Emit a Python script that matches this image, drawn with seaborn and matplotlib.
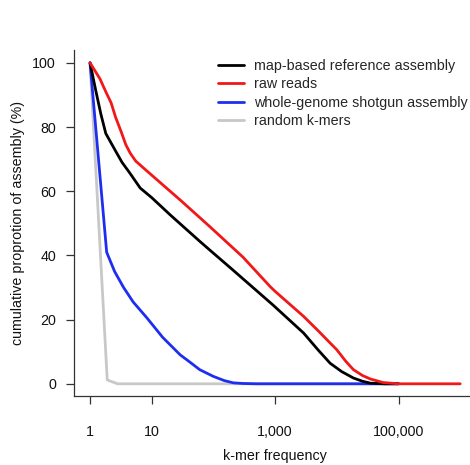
"""
Cumulative proportion of assembly vs k-mer frequency
"""
import numpy as np
import pandas as pd
import matplotlib
matplotlib.use("Agg")
import matplotlib.pyplot as plt
import seaborn as sns

sns.set_style("ticks")
plt.rcParams["font.family"] = ["Liberation Sans", "DejaVu Sans"]
plt.rcParams["font.size"] = 10.3

# ---------------------------------------------------------
# DATA
# ---------------------------------------------------------
map_x = [1, 1.25, 1.5, 1.8, 2.2, 2.6, 3.3, 4.4, 6.5, 10, 20, 60, 87, 200,
         930, 2900, 5000, 7800, 12000, 18600, 26000, 35000, 60000, 100000]
map_y = [100, 91, 84, 78, 75, 72.5, 69, 65.7, 61, 58, 52.6, 44.4, 41.7, 35.7,
         24.5, 15.8, 10.5, 6.4, 3.8, 1.8, 0.8, 0.2, 0, 0]

raw_x = [1, 1.45, 1.8, 2.2, 2.6, 3.2, 3.8, 4.5, 5.5, 7.6, 10, 30, 87, 300,
         830, 1000, 2900, 5000, 10000, 14000, 18600, 26000, 35000, 56000,
         100000, 1000000]
raw_y = [100, 95, 91, 87.5, 83, 78.5, 74.5, 71.8, 69.4, 67, 65, 57, 49, 39.5,
         30.3, 28.8, 21, 16.5, 10.6, 7, 4.4, 2.6, 1.5, 0.4, 0, 0]

wgs_x = [1, 1.86, 2.5, 3.5, 5, 8.3, 15, 29, 40, 60, 100, 150, 210, 300, 500,
         100000]
wgs_y = [100, 41, 35, 30, 25.5, 20.6, 14.5, 9, 7, 4.4, 2.3, 1, 0.3, 0.1, 0, 0]

rnd_x = [1, 1.9, 2.8, 100000]
rnd_y = [100, 1.2, 0, 0]

names = ["map-based reference assembly", "raw reads",
         "whole-genome shotgun assembly", "random k-mers"]
colors = ["#000000", "#F01818", "#1E2EF0", "#C8C8C8"]

xticks = [1, 10, 1000, 100000]
xtick_labels = ["1", "10", "1,000", "100,000"]
yticks = [0, 20, 40, 60, 80, 100]

series = [(map_x, map_y), (raw_x, raw_y), (wgs_x, wgs_y), (rnd_x, rnd_y)]
zorders = [3, 4, 2, 1]

# ---------------------------------------------------------
# PLOT
# ---------------------------------------------------------
fig = plt.figure(figsize=(4.70, 4.65), dpi=100)
ax = fig.add_axes([74 / 470, 69 / 465, 401 / 470, 346 / 465])

for (xs, ys), name, col, z in zip(series, names, colors, zorders):
    df = pd.DataFrame({"freq": xs, "prop": ys})
    sns.lineplot(data=df, x="freq", y="prop", ax=ax, color=col, lw=2,
                 label=name, zorder=z, estimator=None, sort=False)

ax.set_xscale("log")
ax.set_xlim(10 ** -0.26, 10 ** 6.24)
ax.set_ylim(-3.8, 104)
ax.set_xticks(xticks)
ax.set_xticklabels(xtick_labels)
ax.minorticks_off()
ax.set_yticks(yticks)

for side in ["top", "right"]:
    ax.spines[side].set_visible(False)
for side in ["left", "bottom"]:
    ax.spines[side].set_linewidth(0.9)
    ax.spines[side].set_color("#333333")

ax.tick_params(axis="both", length=6, width=0.9, color="#333333",
               labelsize=10.3, labelcolor="#111111")
ax.tick_params(axis="x", pad=15)
ax.tick_params(axis="y", pad=7)

ax.set_xlabel("k-mer frequency", fontsize=10.3, labelpad=7, color="#111111")
ax.set_ylabel("cumulative proprotion of assembly (%)", fontsize=10.3,
              labelpad=5, color="#111111")

handles, labels = ax.get_legend_handles_labels()
ax.legend(handles, labels, loc="upper left", frameon=False,
          bbox_to_anchor=(218 / 470, 1 - 59 / 465), bbox_transform=fig.transFigure,
          borderaxespad=0, borderpad=0, handlelength=1.8, handletextpad=0.7,
          labelspacing=0.3, fontsize=10.3)

fig.savefig("out.png", dpi=100)
plt.close(fig)
